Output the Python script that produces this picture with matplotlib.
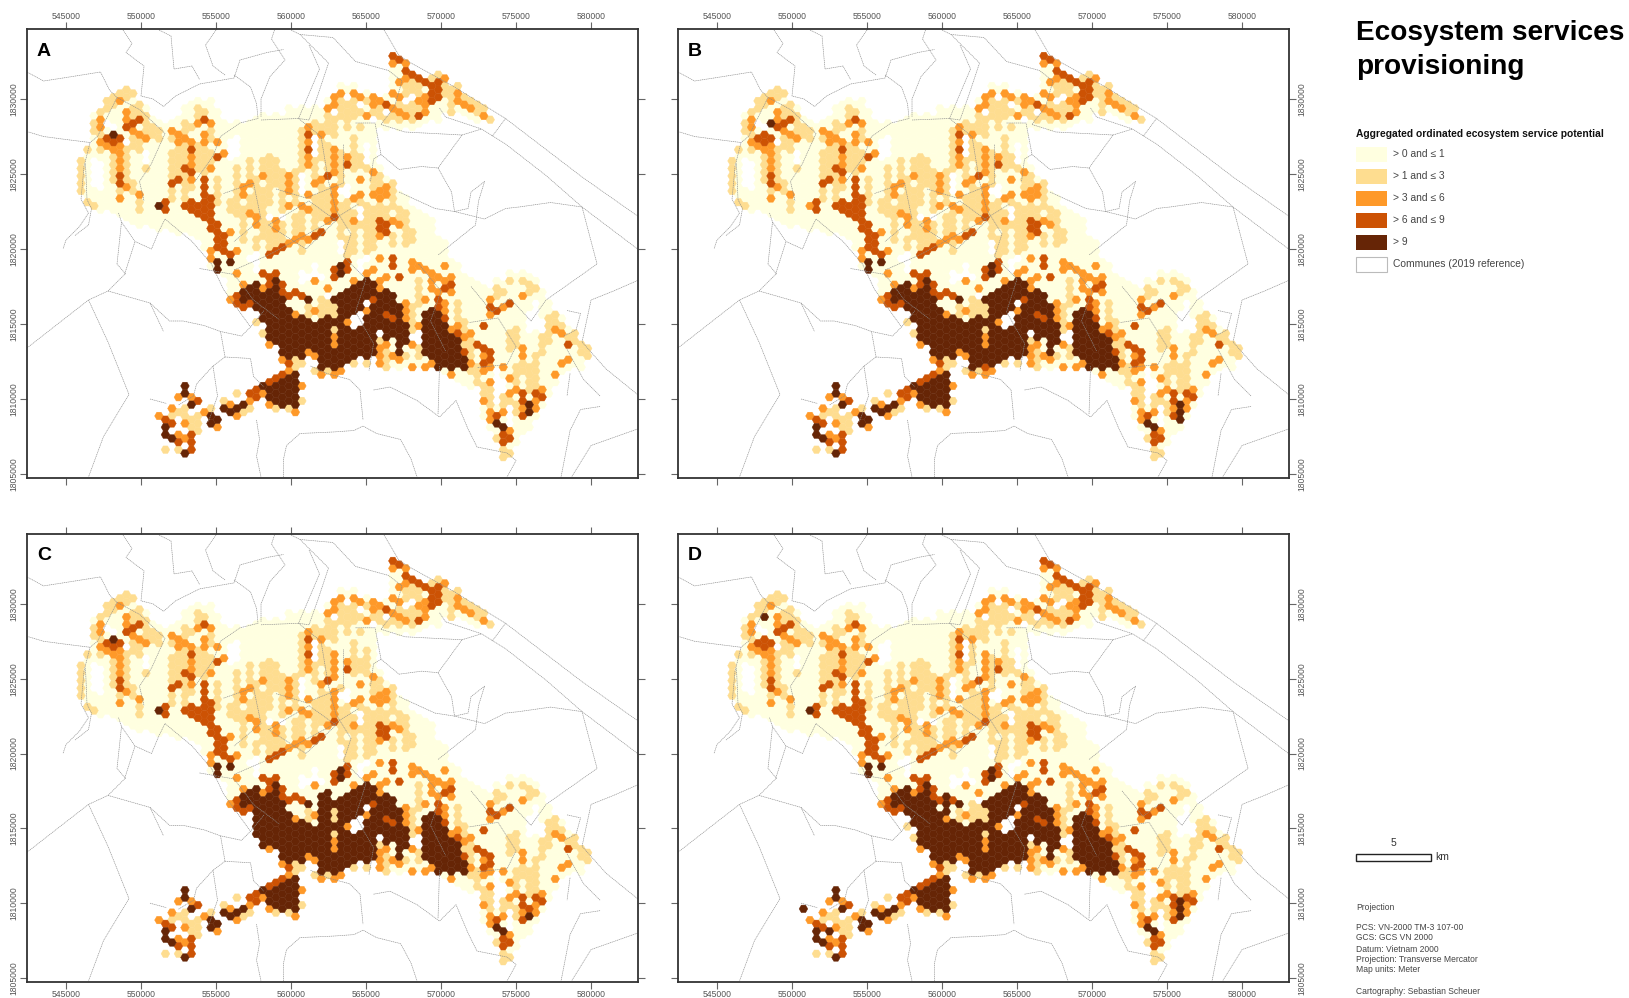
import numpy as np
import matplotlib
matplotlib.use("Agg")
import matplotlib.pyplot as plt
from matplotlib.collections import PolyCollection
from matplotlib.patches import Rectangle

plt.rcParams['font.family'] = ['Liberation Sans', 'DejaVu Sans']

# hex grid of the map: column easting and row northing of cell (0, 0), metres
GRID_E0 = 546000.0
GRID_N0 = 1832870.0
ROW_STEP = 500.0

X_TICKS = [545000, 550000, 555000, 560000, 565000, 570000, 575000, 580000]
Y_TICKS = [1805000, 1810000, 1815000, 1820000, 1825000, 1830000]

CLASS_COLORS = {1: '#ffffe0', 2: '#fedd90', 3: '#fe9929', 4: '#cc5204', 5: '#662506'}
LEGEND_LABELS = ['> 0 and ≤ 1', '> 1 and ≤ 3', '> 3 and ≤ 6', '> 6 and ≤ 9', '> 9']

# cells as (column, first row, last row), painted class after class
PALE = [(0,14,18),(1,12,19),(2,8,20),(3,7,20),(4,6,20),(5,5,20),(6,5,21),(7,4,21),(8,5,22),(9,6,22),
        (10,7,22),(11,8,22),(12,9,23),(13,9,22),(14,9,23),(15,8,23),(16,7,23),(17,6,23),(18,6,24),(19,6,25),
        (20,6,28),(21,7,27),(22,9,29),(23,9,31),(24,9,31),(25,9,30),(26,9,30),(27,8,30),(28,8,30),(29,8,30),
        (30,8,30),(31,8,30),(32,7,33),(33,7,35),(34,7,35),(35,7,36),(36,7,35),(37,7,32),(38,6,31),(39,5,31),
        (40,4,31),(41,4,31),(42,4,31),(43,5,31),(44,5,31),(45,5,31),(46,6,9),(46,15,33),(47,5,9),(47,16,41),
        (48,0,9),(48,17,41),(49,0,9),(49,18,41),(50,1,9),(50,19,41),(51,2,9),(51,20,41),(52,3,9),(52,21,41),
        (53,3,8),(53,21,41),(54,3,8),(54,22,41),(55,3,8),(55,24,41),(56,3,7),(56,25,42),(57,4,7),(57,27,42),
        (58,4,7),(58,28,43),(59,5,7),(59,29,43),(60,6,8),(60,30,44),(61,7,8),(61,30,43),(62,8,8),(62,31,48),
        (63,8,8),(63,31,49),(64,30,51),(65,30,53),(66,29,53),(67,29,51),(68,29,50),(69,29,49),(70,30,48),
        (71,31,46),(72,33,45),(73,34,43),(74,35,42),(75,36,41),(76,37,41),(77,38,41),(78,39,40)]

LIGHT = [(0,14,18),(1,12,12),(1,19,19),(2,9,10),(2,20,20),(3,7,7),(3,10,12),(4,6,7),(5,5,6),(6,5,5),(7,4,5),(8,5,5),
         (8,7,8),(9,6,7),(9,11,12),(10,8,10),(11,9,10),(12,10,11),(7,12,16),(5,13,16),(6,18,18),(8,11,12),(10,15,15),
         (8,17,18),(9,19,20),(14,10,11),(14,13,19),(15,11,15),(16,9,10),(16,12,19),(17,16,17),(17,9,9),(18,7,8),(18,12,15),
         (19,7,7),(19,11,15),(20,10,11),(20,13,14),(21,16,19),(23,19,20),(24,15,21),(25,20,24),(26,14,16),(26,19,20),
         (27,16,20),(27,24,25),(28,14,15),(28,18,24),(29,13,19),(29,22,25),(30,14,17),(30,24,25),(31,15,20),(31,22,24),(33,15,19),
         (33,21,23),(34,10,15),(34,20,26),(36,9,16),(36,19,23),(37,9,13),(37,17,21),(38,8,10),(38,12,15),(38,18,22),
         (39,8,10),(40,6,8),(40,13,17),(40,20,26),(41,6,9),(41,19,22),(41,24,27),(42,6,8),(42,11,15),(42,21,26),(43,6,7),(43,9,9),(43,13,14),(43,19,22),
         (44,6,6),(44,14,15),(44,20,26),(45,7,8),(45,16,17),(45,20,25),(46,7,8),(46,16,21),(47,7,8),(47,20,21),(48,8,8),(48,17,20),(48,24,25),
         (49,6,8),(49,20,22),(50,4,5),(50,7,8),(50,21,25),(51,3,4),(51,6,8),(51,23,24),(52,4,5),(52,7,7),(54,3,3),(55,2,2),(56,4,5),(57,4,7),(58,4,4),(59,5,5),
         (60,6,6),(61,6,7),(62,7,7),(63,8,8),(72,35,38),(73,34,35),(74,36,37),(75,37,38),(76,37,38),(77,38,39),(78,39,40),
         (58,33,40),(59,35,41),(60,38,42),(61,41,43),(62,44,45),(63,44,46),(66,37,39),(67,36,38),(67,41,43),(68,41,42),(69,41,44),(70,40,44),
         (65,45,47),(66,46,46),(67,46,47),(64,51,51),(65,52,53),(66,53,53),(71,37,39),(70,31,31),(69,30,31),(68,30,30),(66,30,30),(65,31,31),(64,31,32),
         (27,35,35),(28,37,37),(33,40,41),(34,41,41),(35,33,34),(37,32,35),(38,33,35),(39,33,36),(47,34,34),(48,35,35),(51,33,36),(52,30,33),
         (24,45,45),(25,47,47),(32,47,47),(34,46,46),(15,47,49),(14,48,48),(16,47,48),(17,48,49),(13,52,52),(15,52,52),(18,48,50),
         (20,47,47),(22,46,46),(26,47,47),(30,47,47),(36,42,42),(38,42,42),(40,42,42),(42,41,41),(44,41,41),(46,38,40),(47,39,41),(51,41,41),(50,40,40),(52,39,40)]

MID = [(6,6,6),(7,7,8),(3,8,9),(3,11,11),(4,12,12),(5,12,12),(6,12,15),(8,10,10),(9,10,10),(10,11,11),(7,17,17),
       (9,18,18),(6,19,19),(14,10,10),(15,10,11),(16,11,11),(17,11,11),(18,9,9),(19,10,11),(20,9,9),(21,11,11),
       (22,13,13),(17,13,14),(17,16,16),(20,15,15),(25,17,18),(26,17,17),(26,21,21),(27,21,21),(23,23,23),(24,26,26),
       (20,26,27),(25,30,30),(24,29,29),(23,32,32),(28,16,16),(27,22,22),(28,31,31),(32,16,18),(30,22,23),(32,20,20),
       (35,9,9),(35,11,11),(35,13,14),(37,10,10),(35,18,18),(34,20,20),(35,20,20),(39,12,15),(39,17,20),(37,16,16),(36,17,17),
       (41,13,13),(45,15,15),(43,16,16),(43,18,18),(42,19,19),(45,18,18),(46,18,19),(47,17,18),(46,24,24),(48,22,22),(49,22,22),(42,22,22),
       (32,25,25),(33,24,24),(34,24,24),(35,24,24),(38,22,22),
       (39,5,6),(38,7,7),(40,5,5),(42,5,5),(43,5,5),(45,5,6),(44,8,8),(46,6,6),(48,1,1),(48,5,5),(48,7,7),(49,5,5),(50,1,1),(50,3,3),(49,3,3),
       (56,3,3),(58,5,6),(59,6,6),(60,7,7),(62,8,8),(53,5,6),(52,6,6),(53,7,7),(50,8,8),(49,7,7),
       (45,28,28),(46,27,27),(47,29,29),(51,27,28),(52,28,28),(53,28,28),(54,29,29),(55,29,29),(56,28,28),(57,29,29),(56,30,30),(55,31,31),(54,30,31),(57,31,31),
       (55,32,33),(56,33,34),(53,32,32),(58,36,36),(57,36,36),(60,37,37),(59,37,37),(58,38,39),(63,32,32),(63,34,34),(65,33,33),(68,32,32),
       (62,42,42),(62,40,40),(63,41,41),(63,43,43),(65,41,41),(66,43,43),(67,44,44),(71,44,44),(73,42,42),(74,41,41),(75,40,40),(68,39,40),
       (73,36,36),(74,37,37),(62,46,46),(63,47,48),(66,50,50),(66,45,45),(70,46,47),(68,47,47),(65,47,47),(33,34,34),(36,34,34),(32,35,35),
       (29,38,38),(31,40,40),(35,39,39),(36,40,40),(37,42,42),(39,42,42),(40,42,42),(33,47,47),(34,44,44),(32,42,42),(29,46,46),(28,45,45),(26,46,46),
       (23,46,46),(24,48,48),(21,49,49),(19,47,47),(17,45,45),(15,45,45),(14,47,47),(12,48,48),(16,49,49),(15,50,50),(16,51,51),(46,39,41),(47,38,38),(48,40,40),
       (39,37,38),(38,36,36),(41,35,35),(44,34,34),(45,32,32),(36,30,30),(38,31,31),(42,30,30),(44,29,29),(46,30,31),(50,33,35),(51,38,38),(52,36,36),
       (53,41,41),(54,41,41),(57,42,42),(51,41,41),(49,40,40),(60,41,41)]

STRONG = [(4,11,11),(5,11,11),(6,11,11),(7,9,9),(8,9,9),(9,8,8),(6,16,17),(17,12,12),(19,8,8),(21,13,13),(17,15,15),(16,15,15),(15,16,16),
          (14,17,17),(13,19,20),(19,16,21),(18,20,21),(17,19,20),(16,20,20),(20,19,23),(21,22,25),(22,24,26),(23,26,26),
          (28,29,29),(29,29,30),(30,29,29),(31,30,31),(33,31,31),(32,32,32),(24,32,33),(25,33,33),(26,33,33),(34,32,32),
          (29,26,26),(30,26,26),(31,25,25),(36,24,24),(37,23,23),(39,21,21),(35,10,10),(35,12,12),(38,16,16),(41,14,14),(46,22,23),(47,22,23),
          (39,28,29),(41,27,28),(48,28,28),(49,29,29),(57,30,30),(56,31,31),(55,32,33),(56,35,35),(63,33,33),(64,34,34),(66,33,33),(62,36,36),(61,38,38),
          (62,39,39),(63,39,40),(62,41,41),(68,45,46),(68,48,48),(70,45,45),(71,45,45),(75,38,38),(64,48,48),(65,50,51),(66,51,51),(58,39,39),
          (48,0,0),(49,0,0),(50,2,2),(51,2,2),(52,3,3),(53,3,3),(54,4,6),(55,3,5),(52,8,8),(47,6,6),
          (48,27,27),(32,41,41),(31,42,42),(30,43,43),(29,43,43),(27,44,45),(26,45,45),(18,46,46),(13,48,48),(14,49,49),(15,51,51),(17,50,52),(37,41,41),
          (45,32,32),(47,34,34),(48,35,35),(58,37,37),(59,39,39)]

DARK = [(5,10,10),(12,20,20),(21,27,28),(23,27,27),(40,28,29),(35,32,32),
        (25,31,32),(26,31,32),(27,30,33),(28,32,35),(29,31,37),(30,30,38),(31,32,39),(32,34,40),(33,35,39),(34,35,40),(35,35,38),(36,36,39),(37,35,41),
        (38,35,41),(39,32,32),(39,35,35),(39,39,41),(40,32,36),(40,37,41),(41,31,34),(41,36,40),(42,31,34),(42,37,40),(43,30,33),(43,36,39),(44,30,32),(44,35,40),
        (45,30,31),(45,33,39),(46,32,36),(47,31,33),(47,35,37),(48,32,34),(48,36,37),(49,33,39),(50,36,38),(53,34,39),(54,34,40),(55,34,41),(56,36,41),
        (57,37,41),(58,38,41),(59,40,41),
        (33,42,46),(32,43,46),(31,43,46),(30,44,46),(29,44,45),(28,44,44),(25,46,46),(24,47,47),(23,47,47),(22,47,47),(21,48,48),(20,48,49),(16,44,45),(17,46,46),
        (13,49,50),(14,51,51),(16,53,53),(69,46,47),(64,49,49),(65,49,49),(66,49,49)]

# cells that stay empty inside the served area
HOLES = [(41,5,5),(43,6,6),(39,7,7),(45,8,8),(47,7,7),(50,6,6),(51,5,5),(36,11,13),(34,16,18),(40,18,18),(44,12,14),(41,17,18),(43,20,21),
         (29,21,21),(31,21,21),(27,26,27),(35,29,29),(36,28,29),(37,29,29),(40,25,26),(26,27,27),(27,28,28),(34,29,30),(43,27,28),(44,27,27),
         (42,35,36),(43,34,35),(44,33,33),(15,48,49),(16,50,50),(10,13,14),(4,9,9),(5,9,9),(7,11,11),(2,14,17),(3,14,17),(23,11,13),(24,11,13),
         (52,37,38),(51,37,37),(66,47,49),(65,43,44),(64,42,46),(69,34,36),(70,33,36),(71,35,36)]

# extra cells of the other panels as (class, column, first row, last row)
PANEL_B = [(4,5,10,10),(5,6,9,9),(3,12,20,20),(4,39,41,41),(5,69,47,48)]
PANEL_C = [(5,27,34,36),(5,28,36,38),(5,37,31,34),(5,38,31,34),(1,36,17,18),(2,44,12,15),(4,69,46,46),(1,40,13,16)]
PANEL_D = [(5,5,7,7),(4,5,10,10),(5,11,46,46),(5,15,49,49),(2,40,14,16),(1,38,12,15),(5,33,31,33),(5,69,45,45)]

# commune boundaries, easting and northing in km
COMMUNES = [
    [(542.4,1831.8),(543.5,1831.2),(544.8,1831.4),(547.3,1831.8),(547.9,1830.6),(548.4,1830.1),(549.9,1829.3),(551.6,1827.7),(550.7,1825.7),(549.9,1824.5),(550.2,1823.2)],
    [(542.5,1827.8),(543.5,1827.5),(545,1827.3),(546.6,1827.1),(547.1,1827.5),(548.4,1830.1)],
    [(546.6,1827.1),(546.2,1825.5),(546,1823.3),(546.5,1822.4),(545.9,1821.5),(545,1820.6),(544.8,1820)],
    [(548.8,1834.6),(549.4,1833.7),(549,1833.1),(550.2,1832.2),(550,1830.2),(550.8,1830),(551.5,1829.5),(552.3,1830.2),(553.9,1831),(556.2,1831.4),(556.6,1832.6),(558.4,1833.1),(559.5,1833.3)],
    [(551.2,1834.6),(552,1834.2),(552.2,1832),(553.4,1832.2),(553.9,1831.3)],
    [(555,1834.6),(554.3,1833.6),(554.8,1832.2),(555.6,1831.6)],
    [(556.2,1831.6),(557.3,1830.8),(557.7,1829.7),(557.8,1828.7),(556.6,1828.4),(555.3,1827.5),(554.8,1826.2),(553.6,1824.5)],
    [(558.9,1834.6),(558.7,1834),(559.6,1832.6),(558.6,1831.5),(558,1830),(558,1828.8)],
    [(560,1834.6),(560.6,1834.3),(562.5,1832.4),(561.8,1830.3),(561.2,1828.6),(560.5,1828.7)],
    [(560.6,1834.3),(562.8,1834.1),(564.3,1832.5),(566.5,1831.9),(567.4,1831.2),(566.9,1829.5),(566,1828.3)],
    [(566.2,1834.6),(567.2,1832.9),(568,1832.4),(570.9,1830.8),(574.3,1828.7),(579.4,1824.8),(583.1,1822.2)],
    [(569.9,1829.4),(570.3,1828.8),(572.7,1828),(574.3,1827),(577,1824.9),(579.4,1822.8),(583.1,1820)],
    [(574.3,1828.7),(573.4,1827.5)],
    [(566,1828.3),(567.6,1827.8),(571.4,1827.6),(569.8,1825.4),(568.7,1825.5),(567.2,1825.3),(566,1826.3),(565.5,1826),(565.3,1824.5)],
    [(571.4,1827.6),(572.7,1828)],
    [(569.8,1825.4),(570.7,1823.8),(570.9,1822.5),(572.9,1822),(574.3,1822.7),(575.2,1822.8),(577.3,1823.1),(579.4,1822.8),(580.4,1819),(577,1816.6)],
    [(570.9,1822.5),(571.8,1822.7),(572,1823.8),(572.9,1824.5),(572.5,1823.2),(572.3,1821.6),(569.8,1819.6)],
    [(567.2,1823.8),(569.6,1822.7),(570.9,1822.5)],
    [(583.1,1817.9),(581.5,1817.2),(580,1816.6),(579.4,1813.8),(581,1812),(583.1,1810.3)],
    [(561.2,1833.6),(561.9,1832),(560.5,1828.7),(558,1828.6)],
    [(564.3,1828.4),(565.6,1828.4),(566,1826.3)],
    [(560.5,1828.7),(562,1827.5),(562.5,1824.5),(563,1822.6),(564,1821),(563.5,1819.5)],
    [(550.6,1816.4),(551.9,1815.2),(552.8,1815.2),(554.2,1814.9),(555.3,1814.5),(556.7,1814.2),(557.3,1814.8),(558.2,1815.9)],
    [(555.3,1814.5),(555.6,1812.8),(554.8,1812.2),(553.7,1811),(553.5,1810.2),(552.5,1809.6)],
    [(555.6,1812.8),(557.3,1812.7),(557.5,1811.5),(558.2,1810.8)],
    [(554.8,1812.2),(555.1,1810.2),(554.5,1808.5)],
    [(550.6,1810),(551.7,1809.7)],
    [(557.7,1808.6),(557.9,1807.3),(557.7,1806.2),(558,1804.8)],
    [(559.5,1804.8),(559.5,1806),(559.7,1806.9),(560.6,1807.7),(562.8,1807.8),(564.2,1807.9),(564.8,1808.2),(565.7,1807.7),(567.3,1807.3),(568,1806),(568.4,1804.8)],
    [(561.3,1812.2),(562.4,1811.7),(563.9,1811.3),(564.6,1810.6),(564.8,1808.6)],
    [(565.5,1810.6),(566.6,1810.8),(568.4,1809.9),(569.9,1808.8),(571,1809.9),(571.8,1808),(572.4,1806.8),(574.4,1806.4),(575,1805.9),(574.4,1804.8)],
    [(569.9,1812.2),(569.8,1809)],
    [(578.4,1815.9),(579.3,1815.7),(579,1814.6),(578.2,1814.2)],
    [(578.4,1813.3),(579.5,1811.3),(580.6,1810.2)],
    [(578.6,1811.7),(578.4,1810.2)],
    [(580.6,1809.5),(579.3,1809.3),(578.6,1807.9),(578,1804.8)],
    [(583.1,1808),(580,1806.9),(578.7,1804.8)],
    [(546.3,1825.7),(546.4,1823.3),(546.7,1822.7),(546.5,1821.6),(545.6,1820.9)],
    [(548.5,1822.4),(548.7,1821.8),(549.6,1820.5),(550.7,1820),(551.2,1821.2),(551.6,1822)],
    [(548.7,1821.8),(548.4,1819),(549,1818.3)],
    [(542.4,1813.4),(544.7,1815.2),(546.5,1816.6),(547.8,1817.2),(548.9,1818.3),(549.6,1820.5)],
    [(546.5,1816.6),(547.8,1813.8),(549.2,1810.3),(547.5,1807.5),(546.5,1804.8)],
    [(547.8,1817.2),(550.6,1816.4),(551.5,1814.5)],
    [(551.6,1822),(553.4,1820.5),(554.7,1819),(555.5,1817.3),(557.3,1814.8)],
    [(563.5,1819.5),(565,1818),(564.3,1815.8),(565.5,1813.7),(565.2,1811.9)],
    [(568.5,1819),(570,1817.2),(569.3,1815.2),(570.3,1813.2)],
    [(572,1817.5),(573.4,1815.8),(574.6,1816.7),(576,1815.2),(577,1816.6)],
    [(571.9,1815.1),(573.8,1815.4),(575,1813.5),(574.4,1812.3),(572.4,1812.1)],
    [(553.9,1818.7),(556.2,1818.3),(557.5,1816.6),(559.2,1815.3)],
    [(558.5,1821.6),(561.2,1823.2),(563,1821.9),(561,1820),(558.5,1821.6)],
    [(556.2,1818.6),(558.5,1819.6),(562.4,1821.7),(564.5,1823)],
    [(559,1824),(561,1823.4),(563.5,1824.4),(563.5,1827)],
    [(555.5,1823.7),(557.5,1824.4),(558,1822),(556.2,1820.5)],
]

fig = plt.figure(figsize=(16.29, 9.98), dpi=100)
W, H = 1629.0, 998.0


def px_axes(x0, y0, x1, y1):
    return fig.add_axes([x0 / W, 1 - y1 / H, (x1 - x0) / W, (y1 - y0) / H])


def panel_cells(extra):
    cells = {}
    for cls, runs in ((1, PALE), (2, LIGHT), (3, MID), (4, STRONG), (5, DARK)):
        for col, r0, r1 in runs:
            for r in range(r0, r1 + 1):
                cells[(col, r)] = cls
    for col, r0, r1 in HOLES:
        for r in range(r0, r1 + 1):
            cells.pop((col, r), None)
    for cls, col, r0, r1 in extra:
        for r in range(r0, r1 + 1):
            cells[(col, r)] = cls
    return cells


def draw_hexes(ax, cells):
    radius = ROW_STEP / np.sqrt(3)
    angles = np.deg2rad(np.arange(0, 360, 60))
    polys, colors = [], []
    # lighter classes first so dark cells stay whole
    for (col, row), cls in sorted(cells.items(), key=lambda kv: kv[1]):
        cx = GRID_E0 + col * 1.5 * radius
        cy = GRID_N0 - row * ROW_STEP - (col % 2) * ROW_STEP / 2
        polys.append(np.c_[cx + radius * np.cos(angles), cy + radius * np.sin(angles)])
        colors.append(CLASS_COLORS[cls])
    ax.add_collection(PolyCollection(polys, facecolors=colors, edgecolors=colors, linewidths=0.3, zorder=1))


def draw_panel(box, letter, extra, labels_top, labels_left):
    ax = px_axes(*box)
    ax.set_xlim(542400, 583130)
    ax.set_ylim(1804733, 1834667)
    draw_hexes(ax, panel_cells(extra))
    for line in COMMUNES:
        pts = np.array(line) * 1000
        ax.plot(pts[:, 0], pts[:, 1], color='#8c8c8c', lw=0.45, ls=(0, (2, 1)), zorder=2)
    ax.set_xticks(X_TICKS)
    ax.set_yticks(Y_TICKS)
    ax.ticklabel_format(useOffset=False, style='plain')
    ax.tick_params(top=True, bottom=True, left=True, right=True, direction='out', length=5,
                   width=0.8, color='#666666', labelsize=6.2, labelcolor='#555555', pad=1,
                   labeltop=labels_top, labelbottom=not labels_top,
                   labelleft=labels_left, labelright=not labels_left)
    for lab in ax.get_yticklabels():
        lab.set_rotation(90)
        lab.set_va('center')
    for sp in ax.spines.values():
        sp.set_linewidth(1.3)
        sp.set_color('#333333')
    ax.text(0.016, 0.951, letter, transform=ax.transAxes, fontsize=14, fontweight='bold', va='center', color='black')
    return ax


draw_panel((27, 29, 638, 478), 'A', [], True, True)
draw_panel((678, 29, 1289, 478), 'B', PANEL_B, True, False)
draw_panel((27, 534, 638, 982), 'C', PANEL_C, False, True)
draw_panel((678, 534, 1289, 982), 'D', PANEL_D, False, False)

# side column: title, legend, scale bar and notes, laid out in image pixels
side = fig.add_axes([0, 0, 1, 1])
side.set_xlim(0, W)
side.set_ylim(H, 0)
side.axis('off')
side.patch.set_alpha(0)

side.text(1356, 33, 'Ecosystem services', fontsize=20.2, fontweight='bold', va='center', color='black')
side.text(1356, 67, 'provisioning', fontsize=20.2, fontweight='bold', va='center', color='black')
side.text(1356, 134, 'Aggregated ordinated ecosystem service potential', fontsize=7.35, fontweight='bold', va='center', color='#111111')

for i, label in enumerate(LEGEND_LABELS):
    yc = 154 + i * 22
    side.add_patch(Rectangle((1356, yc - 7.5), 31, 15, facecolor=CLASS_COLORS[i + 1], edgecolor='none'))
    side.text(1393, yc, label, fontsize=7.4, va='center', color='#444444')
side.add_patch(Rectangle((1356, 257), 31, 14.5, facecolor='white', edgecolor='#bbbbbb', lw=0.8))
side.text(1393, 264, 'Communes (2019 reference)', fontsize=7.4, va='center', color='#444444')

side.add_patch(Rectangle((1356, 854), 75, 6.5, facecolor='white', edgecolor='#222222', lw=1))
side.text(1393, 843, '5', fontsize=7.5, ha='center', va='center', color='#333333')
side.text(1435, 857, 'km', fontsize=7.5, va='center', color='#333333')

NOTES = [(907, 'Projection'), (928, 'PCS: VN-2000 TM-3 107-00'), (938, 'GCS: GCS VN 2000'), (949, 'Datum: Vietnam 2000'),
         (959, 'Projection: Transverse Mercator'), (969, 'Map units: Meter'), (991, 'Cartography: Sebastian Scheuer')]
for yc, txt in NOTES:
    side.text(1356, yc, txt, fontsize=6.15, va='center', color='#444444')

fig.savefig('out.png', dpi=100)
